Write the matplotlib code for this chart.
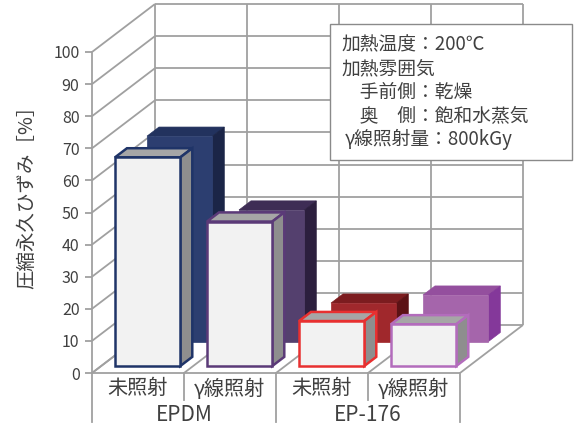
import matplotlib
matplotlib.use("Agg")
import matplotlib.pyplot as plt
from matplotlib.patches import Polygon, Rectangle

plt.rcParams['font.family'] = ['Noto Sans CJK JP', 'DejaVu Sans']

# data
groups = ['EPDM', 'EP-176']
conditions = ['未照射', 'γ線照射', '未照射', 'γ線照射']
front_vals = [65, 45, 14, 13]     # 手前側：乾燥
back_vals = [64, 41, 12, 14.5]    # 奥側：飽和水蒸気
yticks = list(range(0, 101, 10))
ylabel = '圧縮永久ひずみ［%］'
note_lines = ['加熱温度：200℃', '加熱雰囲気', '　手前側：乾燥', '　奥　側：飽和水蒸気', 'γ線照射量：800kGy']

# styles
edge_cols = ['#1f3468', '#5b3a78', '#e83030', '#b36cbc']
back_cols = [('#2c3e70', '#22325e', '#1b2547'),
             ('#54406e', '#3e2d55', '#2c1f3e'),
             ('#a0282c', '#7c1c1f', '#5c1215'),
             ('#a565ab', '#944f9e', '#84389a')]
grid_c = '#a0a0a0'
txt_c = '#404040'

W, H = 574, 429
fig = plt.figure(figsize=(W / 100, H / 100), dpi=100)
ax = fig.add_axes([92 / W, 56 / H, 368 / W, 321 / H])
ax.set_xlim(0, 4)
ax.set_ylim(0, 100)

PXV = 100 / 321          # value units per pixel
DX, DY = 63 / 92, 48 * PXV   # full depth in data units


def p(x, v, d):
    return (x + d * DX, v + d * DY)


def line3(a, b, **kw):
    ax.plot([a[0], b[0]], [a[1], b[1]], color=grid_c, lw=1.3,
            clip_on=False, solid_capstyle='butt', zorder=1, **kw)


# back wall, left wall, floor
for v in yticks:
    line3(p(0, v, 1), p(4, v, 1))
    line3(p(0, v, 0), p(0, v, 1))
for i in range(5):
    line3(p(i, 0, 1), p(i, 100, 1))
    line3(p(i, 0, 0), p(i, 0, 1))
line3(p(0, 0, 0), p(4, 0, 0))


def bar3(x0, w, v, d0, dd, front, top, side, ec, lw, z):
    x1, d1 = x0 + w, d0 + dd
    faces = [
        ([p(x0, v, d0), p(x1, v, d0), p(x1, v, d1), p(x0, v, d1)], top),
        ([p(x1, 0, d0), p(x1, 0, d1), p(x1, v, d1), p(x1, v, d0)], side),
        ([p(x0, 0, d0), p(x1, 0, d0), p(x1, v, d0), p(x0, v, d0)], front),
    ]
    for pts, c in faces:
        ax.add_patch(Polygon(pts, closed=True, fc=c, ec=ec if ec else c,
                             lw=lw, zorder=z, clip_on=False,
                             joinstyle='miter'))


BW, BD = 0.71, 0.19
for i, v in enumerate(back_vals):
    f, t, s = back_cols[i]
    bar3(i + 0.15, BW, v, 0.654, BD, f, t, s, None, 0.5, 3)
for i, v in enumerate(front_vals):
    bar3(i + 0.15, BW, v, 0.146, BD, '#f2f2f2', '#a6a6a6', '#8e8e8e',
         edge_cols[i], 1.8, 4)

# y axis
for s in ['top', 'right', 'bottom']:
    ax.spines[s].set_visible(False)
ax.spines['left'].set_color(grid_c)
ax.spines['left'].set_linewidth(1.3)
ax.set_xticks([])
ax.set_yticks(yticks)
ax.tick_params(axis='y', length=5, width=1.3, color=grid_c,
               labelsize=11.5, labelcolor=txt_c, pad=4)
ax.patch.set_alpha(0)

# category table under the floor
for i in range(5):
    low = -49 * PXV if i % 2 == 0 else -27 * PXV
    ax.plot([i, i], [0, low], color=grid_c, lw=1.3, clip_on=False, zorder=1)
for i, c in enumerate(conditions):
    ax.text(i + 0.5, -16 * PXV, c, ha='center', va='center',
            fontsize=14.5, color=txt_c)
for g, name in enumerate(groups):
    ax.text(2 * g + 1, -42 * PXV, name, ha='center', va='center',
            fontsize=15, color=txt_c)

fig.text(27 / W, 1 - 192 / H, ylabel, rotation=90, ha='center',
         va='center', fontsize=14, color=txt_c)

# note box
fig.add_artist(Rectangle((330 / W, 1 - 160 / H), 242 / W, 136 / H,
                         transform=fig.transFigure, fc='white',
                         ec='#8a8a8a', lw=1.0, zorder=5))
for k, s in enumerate(note_lines):
    x = 345 if s.startswith('γ') else 341
    fig.text(x / W, 1 - (45 + 23.5 * k) / H, s, ha='left', va='center',
             fontsize=13.5, color=txt_c, zorder=6)

fig.savefig('out.png', dpi=100)
